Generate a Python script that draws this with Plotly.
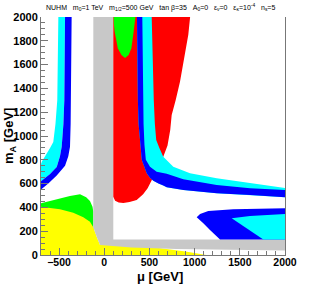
import plotly.graph_objects as go

# ---- data: region boundaries in (mu [GeV], mA [GeV]) ----
green_left_mu = [-700, -700, -600, -490, -380, -268, -200, -158, -130, -121, -121, -200, -700]
green_left_mA = [380, 434, 454, 476, 496, 510, 485, 454, 406, 364, 200, 260, 360]

yellow_mu = [-700, -700, -600, -490, -343, -232, -158, -121, -84, -47, 0, 500, 900, 1130]
yellow_mA = [0, 406, 396, 384, 356, 317, 280, 233, 154, 84, 90, 70, 30, 0]

grey_mu = [-121, 100, 100, 2000, 2000, 1400, 800, 300, -47, -84, -121]
grey_mA = [2000, 2000, 130, 130, 38, 42, 50, 62, 84, 154, 233]

red_mu = [100, 950, 930, 905, 870, 838, 790, 746, 730, 700, 653,
          600, 560, 520, 480, 430, 359, 280, 211, 160, 120, 100]
red_mA = [2000, 2000, 1850, 1737, 1600, 1456, 1300, 1176, 1050, 920, 826,
          760, 680, 620, 560, 510, 462, 445, 438, 442, 455, 490]

green_top_mu = [105, 345, 325, 300, 270, 230, 190, 150, 115, 105]
green_top_mA = [2000, 2000, 1877, 1737, 1680, 1655, 1680, 1737, 1877, 1950]

# right band (mu > 0)
rc_outer_mu = [525, 535, 548, 560, 575, 610, 653, 764, 949, 1244, 1613, 2000]
rc_outer_mA = [2000, 1600, 1300, 1100, 966, 900, 826, 742, 686, 644, 602, 562]
rb_outer_mu = [421, 425, 430, 435, 445, 460, 506, 580, 691, 875, 1244, 1613, 2000]
rb_outer_mA = [2000, 1600, 1300, 1100, 924, 800, 742, 700, 682, 636, 588, 560, 546]
rb_inner_mu = [362, 366, 372, 380, 396, 415, 440, 470, 506, 543, 600, 653, 691, 875, 1244, 1613, 2000]
rb_inner_mA = [2000, 1600, 1300, 1100, 966, 800, 740, 686, 650, 625, 600, 585, 570, 546, 518, 504, 485]

# left band (mu < 0)
lc_outer_mu = [-508, -512, -520, -540, -564, -600, -650, -690, -700]
lc_outer_mA = [2000, 1600, 1300, 1100, 950, 900, 840, 785, 765]
lb_inner_mu = [-434, -437, -442, -452, -471, -490, -526, -600, -674, -700]
lb_inner_mA = [2000, 1600, 1300, 1100, 910, 830, 740, 680, 635, 620]
lb_outer_mu = [-361, -364, -368, -372, -379, -398, -434, -526, -619, -700]
lb_outer_mA = [2000, 1600, 1300, 1100, 910, 830, 750, 668, 600, 550]

# bottom-right island
br_blue_mu = [1023, 1060, 1151, 1428, 2000, 2000, 1281, 1244, 1170, 1096, 1023]
br_blue_mA = [317, 344, 370, 384, 392, 130, 130, 154, 210, 266, 317]
br_cyan_mu = [1410, 1613, 2000, 2000, 1760, 1410]
br_cyan_mA = [308, 328, 345, 130, 130, 308]

x_ticks = [-500, 0, 500, 1000, 1500, 2000]
y_ticks = [0, 200, 400, 600, 800, 1000, 1200, 1400, 1600, 1800, 2000]

YELLOW, GREEN, GREY, RED, CYAN, BLUE = "#FFFF00", "#00FF00", "#C8C8C8", "#FF0000", "#00FFFF", "#0000FF"

fig = go.Figure()


def poly(xs, ys, color):
    fig.add_trace(go.Scatter(x=xs, y=ys, fill="toself", fillcolor=color, mode="lines",
                             line=dict(width=0, color=color), hoverinfo="skip", showlegend=False))


poly(green_left_mu, green_left_mA, GREEN)
poly(yellow_mu, yellow_mA, YELLOW)
poly(grey_mu, grey_mA, GREY)
poly(red_mu, red_mA, RED)
poly(green_top_mu, green_top_mA, GREEN)
poly(rc_outer_mu + rb_inner_mu[::-1], rc_outer_mA + rb_inner_mA[::-1], CYAN)
poly(rb_outer_mu + rb_inner_mu[::-1], rb_outer_mA + rb_inner_mA[::-1], BLUE)
poly(lc_outer_mu + lb_inner_mu[::-1], lc_outer_mA + lb_inner_mA[::-1], CYAN)
poly(lb_outer_mu + lb_inner_mu[::-1], lb_outer_mA + lb_inner_mA[::-1], BLUE)
poly(br_blue_mu, br_blue_mA, BLUE)
poly(br_cyan_mu, br_cyan_mA, CYAN)

tickfont = dict(family="Liberation Sans, Arial, sans-serif", size=11, color="black", weight="bold")
xtickfont = dict(family="Liberation Sans, Arial, sans-serif", size=10.5, color="black", weight="bold")
axcol = "#777777"

fig.update_xaxes(range=[-700, 2000], tickvals=x_ticks, ticks="inside", ticklen=7, tickcolor=axcol,
                 showline=True, linecolor=axcol, linewidth=1, mirror=False, showgrid=False,
                 zeroline=False, tickfont=xtickfont, ticklabelstandoff=-3,
                 minor=dict(dtick=100, ticks="inside", ticklen=4, tickcolor=axcol, showgrid=False))
fig.update_yaxes(range=[0, 2000], tickvals=y_ticks, ticks="inside", ticklen=7, tickcolor=axcol,
                 showline=True, linecolor=axcol, linewidth=1, mirror=True, showgrid=False,
                 zeroline=False, tickfont=tickfont,
                 minor=dict(dtick=50, ticks="inside", ticklen=4, tickcolor=axcol, showgrid=False))

titlefont = dict(family="Liberation Sans, Arial, sans-serif", size=13, color="black", weight="bold")
hfont = dict(family="Liberation Sans, Arial, sans-serif", size=7, color="black")

fig.update_layout(
    width=330, height=284,
    margin=dict(l=41, r=45, t=17, b=29),
    paper_bgcolor="white", plot_bgcolor="white",
    annotations=[
        dict(text="μ [GeV]", xref="paper", yref="paper", x=0.488, y=-0.092,
             showarrow=False, font=titlefont, xanchor="center", yanchor="middle"),
        dict(text="m<sub>A</sub> [GeV]", xref="paper", yref="paper", x=-0.131, y=0.50,
             showarrow=False, font=titlefont, textangle=-90, xanchor="center", yanchor="middle"),
        dict(text="NUHM   m<sub>0</sub>=1 TeV   m<sub>1/2</sub>=500 GeV   tan β=35   A<sub>0</sub>=0   "
                  "ε<sub>ν</sub>=0   ε<sub>κ</sub>=10<sup>-4</sup>   n<sub>s</sub>=5",
             xref="paper", yref="paper", x=(160 - 41) / 244, y=1.0, yshift=10,
             showarrow=False, font=hfont, xanchor="center", yanchor="middle"),
    ],
)

fig.write_html("out.html", config={"displayModeBar": False},
               post_script="document.body.style.margin='0';document.body.style.overflow='hidden';")
